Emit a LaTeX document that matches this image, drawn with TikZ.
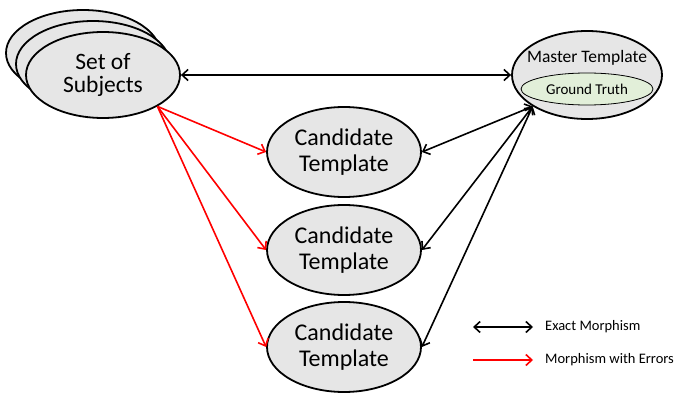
\documentclass[tikz,border=0pt]{standalone}
\usepackage{fontspec}
\setmainfont{Carlito}
\usetikzlibrary{shapes.geometric, arrows.meta, positioning}

\definecolor{blobgray}{HTML}{E6E6E6}
\definecolor{truthgreen}{HTML}{E2EFD9}

\begin{document}
\begin{tikzpicture}[x=1pt, y=-1pt,
        blob/.style={ellipse, draw, line width=1.8pt, fill=blobgray, inner sep=0pt,
                minimum width=154pt, minimum height=86pt, align=center,
                font=\fontsize{24}{26}\selectfont},
        exact/.style={line width=1.6pt, {Straight Barb[length=6pt,width=11pt]}-{Straight Barb[length=6pt,width=11pt]}},
        witherr/.style={red, line width=1.6pt, -{Straight Barb[length=6pt,width=11pt]}},
        legend/.style={anchor=west, inner sep=0pt, font=\fontsize{14.5}{16}\selectfont}]
        \useasboundingbox (0,0) rectangle (680,393);

        % stack of subjects
        \node[blob] (sub3) at (83,53) {};
        \node[blob] (sub2) at (93,64) {};
        \node[blob, font=\fontsize{23.5}{23.5}\selectfont] (sub1) at (103,75) {Set of\\Subjects};

        % master template with ground truth inside
        \node[blob, minimum width=150pt, minimum height=88pt] (master) at (587,75) {};
        \node[font=\fontsize{17.5}{19}\selectfont, inner sep=0pt] (mastertxt) at (587,58) {Master Template};
        \node[ellipse, draw, line width=0.8pt, fill=truthgreen, minimum width=132pt, minimum height=32pt,
                inner sep=0pt, font=\fontsize{15}{17}\selectfont] (truth) at (587,89) {Ground Truth};

        % candidates
        \node[blob, minimum height=90pt] (cand1) at (344,152) {Candidate\\Template};
        \node[blob, minimum height=90pt] (cand2) at (344,250) {Candidate\\Template};
        \node[blob, minimum height=90pt] (cand3) at (344,347) {Candidate\\Template};

        \draw[exact] (sub1.east) -- (master.west);
        \foreach \c in {cand1, cand2, cand3} {
                \draw[witherr] (sub1.-30) -- (\c.west);
                \draw[exact] (master.210) -- (\c.east);
        }

        % legend
        \coordinate (ex1) at (473,327);
        \coordinate (ex2) at (533,327);
        \coordinate (er1) at (473,360);
        \coordinate (er2) at (533,360);
        \draw[exact] (ex1) -- (ex2);
        \draw[witherr] (er1) -- (er2);
        \node[legend] (exlbl) at (545,327) {Exact Morphism};
        \node[legend] (erlbl) at (545,360) {Morphism with Errors};
\end{tikzpicture}
\end{document}
